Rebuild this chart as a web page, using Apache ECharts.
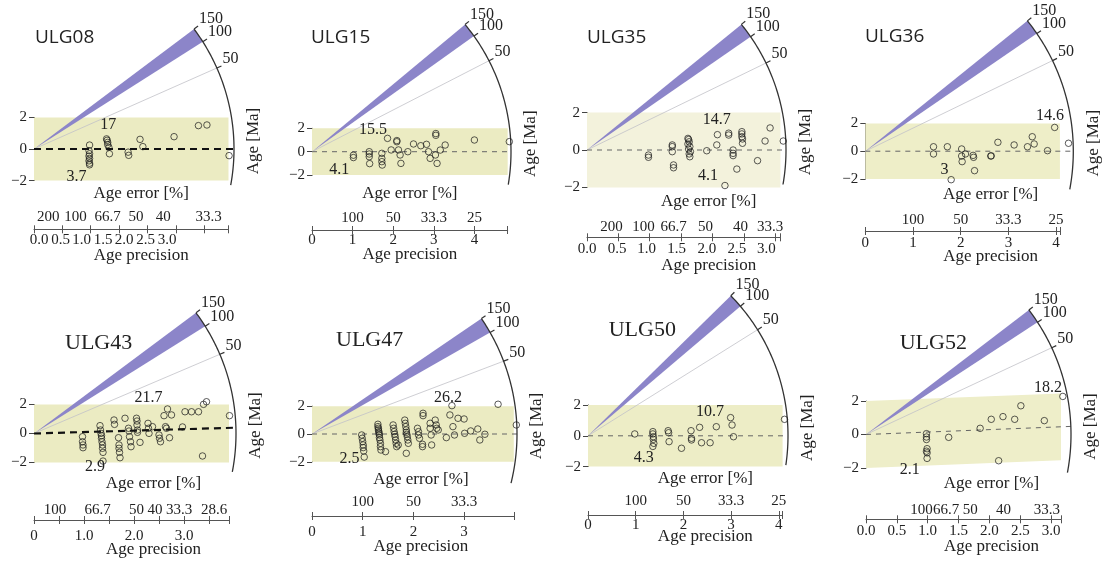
<!DOCTYPE html>
<html>
<head>
<meta charset="utf-8">
<script src="https://cdn.jsdelivr.net/npm/echarts@6/dist/echarts.min.js"></script>
<style>
  html, body { margin: 0; padding: 0; background: #fff; }
  #chart { width: 1105px; height: 567px; }
</style>
</head>
<body>
<div id="chart"></div>
<script>
// ---------------- data ----------------
// Radial plots of single-grain ages: x = age precision (1/relative error),
// y = standardised estimate; a ray from the origin with slope ln(t/tRef) marks age t.
const sampleNames = ['ULG08', 'ULG15', 'ULG35', 'ULG36', 'ULG43', 'ULG47', 'ULG50', 'ULG52'];
const refAge      = [10.2, 8.4, 9.8, 9.5, 11.5, 12.5, 7.2, 8.9];   // age at y = 0 (Ma)
const centralAge  = [10.2, 8.4, 9.8, 9.5, 12.7, 12.5, 7.2, 10.3];  // dashed central-age ray (Ma)
const bandAge     = [10.2, 8.4, 9.8, 9.5, 11.5, 12.5, 7.2, 10.3];  // ray the ±2 band is centred on (Ma)
const arcLowAge   = [5.27, 4.70, 5.43, 5.01, 5.89, 5.08, 4.55, 4.42]; // lower end of the age scale arc (Ma)
const arcTickAges = [50, 100, 150];
const wedgeAges   = [100, 150];
const precisionMax = [3.43, 4.82, 3.085, 4.08, 3.9, 3.98, 4.08, 3.16];
const precisionStep = [0.5, 1, 0.5, 1, 0.5, 1, 1, 0.5];

// grains: [precision, standardised estimate]
const ULG08 = [[0.98,0.25],[0.97,-0.1],[0.98,-0.3],[0.97,-0.45],[0.98,-0.6],[0.97,-0.75],[0.98,-0.9],[0.98,-1.0],
  [1.28,0.64],[1.29,0.55],[1.3,0.42],[1.3,0.28],[1.32,0.1],[1.33,-0.3],
  [1.66,-0.2],[1.67,-0.4],[1.87,0.61],[1.92,0.15],[2.47,0.78],[2.9,1.48],[3.05,1.52],[3.44,-0.42]];
const ULG15 = [[1.02,-0.3],[1.02,-0.5],[1.41,0],[1.41,-0.2],[1.41,-0.43],[1.42,-1.02],
  [1.72,-0.14],[1.72,-0.57],[1.72,-0.85],[1.73,-1.14],
  [1.86,1.14],[1.95,0.15],[2.09,0.95],[2.09,0.85],[2.13,0.15],[2.17,-0.28],[2.19,-1.0],[2.36,0],
  [2.5,0.66],[2.68,0.51],[2.82,0.63],[2.87,0],[2.91,-0.57],[3.05,1.55],[3.05,1.4],[3.04,-0.28],
  [3.08,-1.0],[3.16,0.14],[3.28,0.57],[4.0,1.0],[4.86,0.86]];
const ULG35 = [[0.98,-0.27],[0.98,-0.39],[1.36,0.27],[1.36,0.18],[1.36,-0.09],[1.38,-0.8],[1.38,-0.95],
  [1.61,0.62],[1.62,0.56],[1.63,0.44],[1.61,0.32],[1.64,0.18],[1.62,0.05],[1.65,-0.09],[1.63,-0.21],[1.64,-0.36],
  [1.91,-0.04],[2.07,0.27],[2.08,0.82],[2.26,0.9],[2.26,0.8],[2.33,0.0],[2.33,-0.18],[2.33,-0.3],
  [2.39,-1.02],[2.2,-1.9],[2.47,0.98],[2.47,0.86],[2.47,0.71],[2.48,0.59],[2.48,0.36],
  [2.72,-0.57],[2.84,0.48],[2.92,1.18],[3.13,0.48]];
const ULG36 = [[1.43,0.32],[1.43,-0.2],[1.72,0.32],[1.8,-2.05],[2.02,0.16],[2.02,-0.35],[2.03,-0.75],
  [2.1,-0.2],[2.26,-0.3],[2.27,-0.44],[2.29,-1.4],[2.63,-0.35],[2.64,-0.33],[2.78,0.64],[3.12,0.45],
  [3.4,0.32],[3.5,1.04],[3.54,0.52],[3.82,0.04],[3.97,1.71],[4.26,0.57]];
const ULG43 = [[0.97,-0.22],[0.97,-0.57],[0.98,-0.79],[0.98,-0.98],
  [1.32,0.54],[1.33,0.24],[1.34,0.01],[1.35,-0.15],[1.35,-0.33],[1.36,-0.57],[1.37,-0.79],[1.37,-1.02],[1.38,-1.3],[1.38,-1.9],
  [1.6,0.93],[1.61,0.63],[1.69,-0.29],[1.7,-0.79],[1.7,-1.02],[1.71,-1.3],[1.72,-1.67],
  [1.82,1.05],[1.89,0.36],[1.9,0.17],[1.91,-0.22],[1.93,-0.57],[1.94,-0.91],
  [2.05,1.05],[2.06,0.86],[2.06,0.59],[2.07,0.24],[2.07,0.08],[2.12,-0.61],
  [2.28,0.7],[2.29,0.36],[2.3,0.01],[2.37,0.47],[2.5,-0.1],[2.51,-0.33],[2.53,-0.57],
  [2.6,1.23],[2.63,0.47],[2.65,0.36],[2.71,-0.29],[2.67,1.69],[2.75,1.28],
  [2.97,0.45],[3.02,1.5],[3.15,1.5],[3.29,1.5],[3.37,-1.55],[3.39,2.01],[3.45,2.19],[3.91,1.23]];
const ULG47 = [[0.98,-0.07],[0.99,-0.31],[1.0,-0.55],[1.01,-0.79],[1.01,-0.98],[1.02,-1.22],[1.03,-1.66],
  [1.3,0.7],[1.3,0.53],[1.31,0.41],[1.31,0.29],[1.32,0.17],[1.32,0.05],[1.33,-0.07],[1.33,-0.26],
  [1.34,-0.43],[1.35,-0.67],[1.35,-0.91],[1.36,-1.15],[1.45,-1.27],
  [1.6,0.65],[1.61,0.41],[1.62,0.17],[1.63,-0.02],[1.64,-0.19],[1.65,-0.43],[1.66,-0.67],[1.67,-0.91],[1.7,-0.79],
  [1.83,1.0],[1.84,0.77],[1.85,0.53],[1.86,0.29],[1.86,0.12],[1.87,-0.02],[1.88,-0.19],[1.89,-0.43],[1.9,-0.67],[1.86,-1.39],
  [2.08,0.41],[2.1,0.17],[2.1,-0.07],[2.12,-0.31],[2.18,-0.74],[2.18,-0.91],[2.19,1.49],[2.19,1.32],
  [2.33,0.77],[2.33,0.41],[2.35,-0.07],[2.36,-0.79],[2.43,1.0],[2.45,0.65],[2.46,0.41],[2.49,0.29],
  [2.65,-0.26],[2.72,1.37],[2.76,2.04],[2.78,0.53],[2.81,-0.07],[2.88,1.13],[3.0,1.08],[3.01,0.05],
  [3.13,0.22],[3.27,0.36],[3.31,-0.43],[3.41,-0.02],[3.67,2.14],[4.03,0.65]];
const ULG50 = [[0.98,0.12],[1.36,0.27],[1.36,0.12],[1.37,-0.06],[1.37,-0.23],[1.38,-0.49],[1.36,-0.69],
  [1.68,0.33],[1.69,0.2],[1.7,-0.38],[1.96,-0.81],[2.16,0.33],[2.17,-0.16],[2.17,-0.27],[2.34,0.55],
  [2.38,-0.45],[2.56,-0.45],[2.69,0.59],[2.99,1.18],[3.02,0.7],[3.05,-0.06],[4.12,1.07]];
const ULG52 = [[0.98,0.05],[0.98,-0.15],[0.98,-0.3],[0.99,-0.85],[0.98,-1.0],[0.99,-1.1],[0.99,-1.43],
  [1.34,-0.17],[1.85,0.37],[2.03,0.91],[2.15,-1.57],[2.22,1.07],[2.41,0.91],[2.51,1.72],[2.89,0.83],[3.19,2.28]];
const grains = [ULG08, ULG15, ULG35, ULG36, ULG43, ULG47, ULG50, ULG52];

// oldest / youngest grain age labels
const extremeText = [['17','3.7'], ['15.5','4.1'], ['14.7','4.1'], ['14.6','3'],
                     ['21.7','2.9'], ['26.2','2.5'], ['10.7','4.3'], ['18.2','2.1']];
const extremeAt = [[[1.31,1.52],[0.75,-1.75]], [[1.5,1.85],[0.67,-1.56]], [[2.07,1.6],[1.93,-1.39]],
                   [[3.87,2.53],[1.66,-1.35]], [[2.29,2.43],[1.22,-2.29]], [[2.68,2.57],[0.74,-1.75]],
                   [[2.56,1.56],[1.17,-1.46]], [[2.95,2.77],[0.71,-2.13]]];

// precision tick labels and where they sit
const precLabels = [['0.0','0.5','1.0','1.5','2.0','2.5','3.0'], ['0','1','2','3','4'],
  ['0.0','0.5','1.0','1.5','2.0','2.5','3.0'], ['0','1','2','3','4'], ['0','1.0','2.0','3.0'],
  ['0','1','2','3'], ['0','1','2','3','4'], ['0.0','0.5','1.0','1.5','2.0','2.5','3.0']];
const precLabelAt = [[0.09,0.47,0.84,1.22,1.59,1.97,2.35], [0,1,2,3,4],
  [0,0.48,0.95,1.43,1.91,2.39,2.86], [0,1,2,3,4], [0,1,2,3], [0,1,2,3], [0,1,2,3,4],
  [0,0.5,1,1.5,2,2.5,3]];
// age error [%] labels and where they sit
const errLabels = [['200','100','66.7','50','40','33.3'], ['100','50','33.3','25'],
  ['200','100','66.7','50','40','33.3'], ['100','50','33.3','25'], ['100','66.7','50','40','33.3','28.6'],
  ['100','50','33.3'], ['100','50','33.3','25'], ['200','100','66.7','50','40','33.3']];
const errLabelAt = [[0.25,0.73,1.3,1.8,2.28,3.08], [1,2,3,4], [0.39,0.9,1.38,1.89,2.45,2.92], [1,2,3,4],
  [0.42,1.27,2.05,2.42,2.9,3.6], [1,2,3], [1,2,3,4], [0.58,0.9,1.3,1.69,2.23,2.93]];

// ---------------- layout & style ----------------
// ox/oy: origin in px, sx/sy: px per unit, R: arc radius, axisY: precision axis line
const layout = [
  { ox: 34,    oy: 149,   sx: 56.7, sy: 15.8, R: 200, axisY: 229.3, band: '#ebebc2', thick: true,  tx: 35,    ty: 37.5, serifTitle: false, nameShift: 10, precGap: 3, errGap: 5,   precName: 26 },
  { ox: 312,   oy: 151.7, sx: 40.6, sy: 11.7, R: 199, axisY: 230,   band: '#ebebc2', thick: false, tx: 311,   ty: 38,   serifTitle: false, nameShift: 0,  precGap: 3, errGap: 4.5, precName: 25 },
  { ox: 587,   oy: 150,   sx: 62.7, sy: 18.7, R: 199, axisY: 237.3, band: '#f3f2dc', thick: false, tx: 587,   ty: 38,   serifTitle: false, nameShift: 25, precGap: 4, errGap: 3,   precName: 28 },
  { ox: 865.3, oy: 151.2, sx: 47.7, sy: 13.9, R: 208, axisY: 231,   band: '#eeeec8', thick: false, tx: 865,   ty: 37,   serifTitle: false, nameShift: 28, precGap: 5, errGap: 3.5, precName: 26 },
  { ox: 34,    oy: 433.5, sx: 50,   sy: 14.5, R: 202, axisY: 520,   band: '#ebebc2', thick: true,  tx: 65,    ty: 343,  serifTitle: true,  nameShift: 22, precGap: 9, errGap: 2.5, precName: 30 },
  { ox: 312,   oy: 434,   sx: 50.7, sy: 13.9, R: 205, axisY: 516,   band: '#ebebc2', thick: false, tx: 336,   ty: 340,  serifTitle: true,  nameShift: 8,  precGap: 9, errGap: 6.5, precName: 31 },
  { ox: 588,   oy: 435.8, sx: 47.7, sy: 15.4, R: 200, axisY: 515,   band: '#ededc6', thick: false, tx: 608.7, ty: 330,  serifTitle: true,  nameShift: 20, precGap: 3, errGap: 6,   precName: 22 },
  { ox: 866,   oy: 434.5, sx: 61.7, sy: 16.7, R: 205, axisY: 519.3, band: '#eeeec9', thick: false, tx: 899.7, ty: 343,  serifTitle: true,  nameShift: 28, precGap: 4, errGap: 2,   precName: 27 }
];
const SERIF = '"Liberation Serif", "Times New Roman", serif';
const SANS = '"Open Sans", "Liberation Sans", sans-serif';
const INK = '#222';
const WEDGE = '#8c85c9';

function tickPositions(max, step) {
  const t = [];
  for (let k = 0; k * step <= max + 1e-9; k++) t.push(+(k * step).toFixed(4));
  if (max - t[t.length - 1] > 1e-6) t.push(max);
  return t;
}
function labelFor(texts, at) {
  return function (v) {
    for (let k = 0; k < at.length; k++) if (Math.abs(at[k] - v) < 1e-6) return texts[k];
    return '';
  };
}
function serifText(text, size, align) {
  return { text: text, fill: INK, font: size + 'px ' + SERIF, fontSize: size, fontFamily: SERIF,
           align: align, verticalAlign: 'middle' };
}

// band, rays, wedge, age arc and its labels for panel i
function drawFrame(i, api) {
  const L = layout[i];
  const o = api.coord([0, 0]);
  const u = api.size([1, 1]);
  const R = L.R;
  const angleOf = age => Math.atan2(-Math.log(age / refAge[i]) * u[1], u[0]);
  const onArc = (ang, r) => [o[0] + r * Math.cos(ang), o[1] + r * Math.sin(ang)];
  const kids = [];
  const xm = precisionMax[i];
  const sb = Math.log(bandAge[i] / refAge[i]);
  kids.push({ type: 'polygon', shape: { points: [api.coord([0, 2]), api.coord([xm, sb * xm + 2]), api.coord([xm, sb * xm - 2]), api.coord([0, -2])] },
              style: { fill: L.band } });
  const e50 = onArc(angleOf(50), R);
  kids.push({ type: 'line', shape: { x1: o[0], y1: o[1], x2: e50[0], y2: e50[1] }, style: { stroke: '#c2c2c8', lineWidth: 0.8 } });
  const aHi = angleOf(wedgeAges[1]), aLo = angleOf(wedgeAges[0]);
  const wp = [o];
  for (let k = 0; k <= 20; k++) wp.push(onArc(aHi + (aLo - aHi) * k / 20, R));
  kids.push({ type: 'polygon', shape: { points: wp }, style: { fill: WEDGE } });
  const ec = onArc(angleOf(centralAge[i]), R);
  kids.push({ type: 'line', shape: { x1: o[0], y1: o[1], x2: ec[0], y2: ec[1] },
              style: L.thick ? { stroke: '#111', lineWidth: 2.2, lineDash: [7, 5] } : { stroke: '#666', lineWidth: 1, lineDash: [5, 5] } });
  const a0 = angleOf(arcTickAges[arcTickAges.length - 1]), a1 = angleOf(arcLowAge[i]);
  const ap = [];
  for (let k = 0; k <= 80; k++) ap.push(onArc(a0 + (a1 - a0) * k / 80, R));
  kids.push({ type: 'polyline', shape: { points: ap }, style: { stroke: '#333', lineWidth: 1.3, fill: null } });
  arcTickAges.forEach(age => {
    const a = angleOf(age);
    const p = onArc(a, R), q = onArc(a, R + 5);
    kids.push({ type: 'line', shape: { x1: p[0], y1: p[1], x2: q[0], y2: q[1] }, style: { stroke: '#333', lineWidth: 1.2 } });
    kids.push({ type: 'text', x: q[0] + 1, y: q[1] - 7, style: serifText(String(age), 16, 'left') });
  });
  kids.push({ type: 'text', x: o[0] + R + 20, y: o[1] - 8, rotation: Math.PI / 2, style: serifText('Age [Ma]', 17, 'center') });
  extremeText[i].forEach((txt, k) => {
    const p = api.coord(extremeAt[i][k]);
    kids.push({ type: 'text', x: p[0], y: p[1], style: serifText(txt, 16, 'center') });
  });
  return { type: 'group', children: kids };
}

const option = { animation: false, backgroundColor: '#fff', grid: [], xAxis: [], yAxis: [], series: [], graphic: [] };

sampleNames.forEach((name, i) => {
  const L = layout[i];
  const xm = precisionMax[i];
  const gridTop = L.oy - 2 * L.sy;
  const off = L.axisY - (L.oy + 2 * L.sy);
  const ticks = tickPositions(xm, precisionStep[i]);
  option.grid.push({ left: L.ox, top: gridTop, width: xm * L.sx, height: 4 * L.sy, containLabel: false, outerBoundsMode: 'none' });

  const nameStyle = { fontSize: 17, fontFamily: SERIF, color: INK, verticalAlign: 'middle', padding: [0, 0, 0, 2 * L.nameShift] };
  option.xAxis.push({
    gridIndex: i, type: 'value', min: 0, max: xm, position: 'bottom', offset: off,
    axisLine: { show: true, onZero: false, lineStyle: { color: '#555', width: 1 } },
    axisTick: { show: true, customValues: ticks, length: 4, lineStyle: { color: '#555' } },
    axisLabel: { customValues: precLabelAt[i], formatter: labelFor(precLabels[i], precLabelAt[i]), margin: L.precGap,
                 fontSize: 15, fontFamily: SERIF, color: INK },
    splitLine: { show: false },
    name: 'Age precision', nameLocation: 'middle', nameGap: L.precName, nameMoveOverlap: false, nameTextStyle: nameStyle
  });
  option.xAxis.push({
    gridIndex: i, type: 'value', min: 0, max: xm, position: 'bottom', offset: off,
    axisLine: { show: false, onZero: false },
    axisTick: { show: true, inside: true, customValues: ticks, length: 4, lineStyle: { color: '#555' } },
    axisLabel: { inside: true, customValues: errLabelAt[i], formatter: labelFor(errLabels[i], errLabelAt[i]), margin: L.errGap,
                 fontSize: 15, fontFamily: SERIF, color: INK },
    splitLine: { show: false },
    name: 'Age error [%]', nameLocation: 'middle', nameGap: -36, nameMoveOverlap: false, nameTextStyle: nameStyle
  });
  option.yAxis.push({
    gridIndex: i, type: 'value', min: -2, max: 2, interval: 2,
    axisLine: { show: true, onZero: false, lineStyle: { color: '#444', width: 1 } },
    axisTick: { show: true, length: 5, lineStyle: { color: '#444' } },
    axisLabel: { formatter: v => (v < 0 ? '\u2212' + (-v) : String(v)), margin: 7, fontSize: 15, fontFamily: SERIF, color: INK },
    splitLine: { show: false }
  });

  option.series.push({
    type: 'custom', xAxisIndex: 2 * i, yAxisIndex: i, data: [[0, 0]], z: 1, silent: true, clip: false,
    renderItem: (params, api) => drawFrame(i, api)
  });
  option.series.push({
    type: 'scatter', xAxisIndex: 2 * i, yAxisIndex: i, data: grains[i], z: 3, silent: true, clip: false,
    symbol: 'circle', symbolSize: 6.5,
    itemStyle: { color: 'rgba(255,255,255,0)', borderColor: '#1a1a1a', borderWidth: 0.9 }
  });

  option.graphic.push({
    type: 'text', x: L.tx, y: L.ty, silent: true,
    style: { text: name, fill: INK, fontSize: L.serifTitle ? 22 : 19, fontFamily: L.serifTitle ? SERIF : SANS,
             align: 'left', verticalAlign: 'middle' }
  });
});

const chart = echarts.init(document.getElementById('chart'), null, { renderer: 'canvas' });
chart.setOption(option);
</script>
</body>
</html>
